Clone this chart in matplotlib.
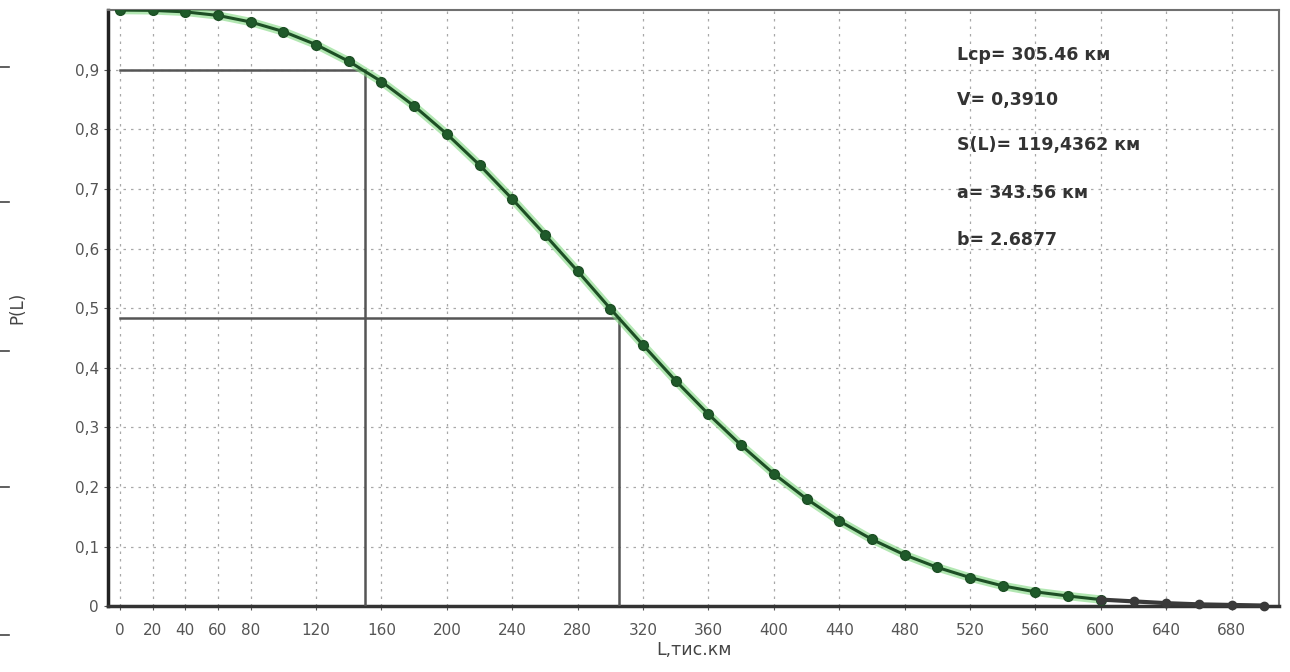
import matplotlib
matplotlib.use('Agg')
import matplotlib.pyplot as plt
from matplotlib.lines import Line2D

# values
L = [0, 20, 40, 60, 80, 100, 120, 140, 160, 180, 200, 220, 240, 260, 280, 300,
     320, 340, 360, 380, 400, 420, 440, 460, 480, 500, 520, 540, 560, 580, 600]
P = [1.0, 0.9995, 0.997, 0.991, 0.980, 0.964, 0.942, 0.914, 0.880, 0.839, 0.792,
     0.740, 0.683, 0.623, 0.562, 0.499, 0.438, 0.378, 0.322, 0.270, 0.222, 0.180,
     0.143, 0.112, 0.086, 0.065, 0.048, 0.034, 0.024, 0.017, 0.011]
L_tail = [600, 620, 640, 660, 680, 700]
P_tail = [0.011, 0.008, 0.005, 0.003, 0.002, 0.001]

xticks = [0, 20, 40, 60, 80, 120, 160, 200, 240, 280, 320, 360, 400, 440, 480,
          520, 560, 600, 640, 680]
yticks = [0, 0.1, 0.2, 0.3, 0.4, 0.5, 0.6, 0.7, 0.8, 0.9]
ytick_labels = ['0', '0,1', '0,2', '0,3', '0,4', '0,5', '0,6', '0,7', '0,8', '0,9']

# guide lines: (L, P) pairs
guide1 = (150, 0.9)
guide2 = (305.46, 0.484)

info = ['Lcp= 305.46 км', 'V= 0,3910', 'S(L)= 119,4362 км', 'a= 343.56 км', 'b= 2.6877']

fig = plt.figure(figsize=(12.9, 6.72), dpi=100)
ax = fig.add_axes([0.0837, 0.098, 0.9078, 0.887])

ax.set_xlim(-7.3, 709)
ax.set_ylim(0, 1.0)

ax.set_xticks(xticks)
ax.set_yticks(yticks)
ax.set_yticklabels(ytick_labels)
ax.tick_params(colors='#555555', labelsize=11, length=3, width=0.8)
ax.tick_params(axis='x', pad=9)
ax.grid(True, color='#a8a8a8', linestyle=(0, (2, 4)), linewidth=0.9)

for s in ['top', 'right']:
    ax.spines[s].set_color('#707070')
    ax.spines[s].set_linewidth(1.5)
ax.spines['left'].set_color('#222222')
ax.spines['left'].set_linewidth(2.5)
ax.spines['bottom'].set_color('#333333')
ax.spines['bottom'].set_linewidth(2.5)

# guide lines
for gx, gy in [guide1, guide2]:
    ax.plot([0, gx], [gy, gy], color='#555555', linewidth=1.8, zorder=3)
    ax.plot([gx, gx], [0, gy], color='#555555', linewidth=1.8, zorder=3)

# curve
ax.plot(L, P, color='#7fd77f', linewidth=6, alpha=0.6, zorder=4, solid_capstyle='round')
ax.plot(L, P, color='#1d4f25', linewidth=2.2, marker='o', markersize=7,
        markerfacecolor='#1f5a2a', markeredgecolor='#1d4f25', zorder=5)
ax.plot(L_tail, P_tail, color='#3a3a3a', linewidth=3, marker='o', markersize=6,
        markerfacecolor='#3a3a3a', markeredgecolor='#3a3a3a', zorder=5, clip_on=False)

ytxt = [0.925, 0.849, 0.774, 0.693, 0.614]
for t, yy in zip(info, ytxt):
    ax.text(512, yy, t, fontsize=12.5, fontweight='bold', color='#333333',
            va='center', ha='left', zorder=6)

ax.set_xlabel('L,тис.км', fontsize=12.5, color='#444444', labelpad=2)
ax.set_ylabel('P(L)', fontsize=12, color='#444444', labelpad=35)

# small dashes at the left edge of the image
for yy in [0.90, 0.70, 0.478, 0.275, 0.055]:
    fig.add_artist(Line2D([0.0, 0.007], [yy, yy], color='#444444', linewidth=1.2))

fig.savefig('out.png', dpi=100, facecolor='white')
